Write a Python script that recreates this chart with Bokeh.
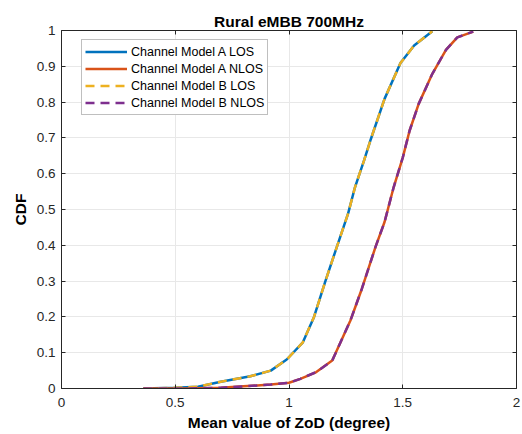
from bokeh.plotting import figure
from bokeh.models import (Range1d, LinearAxis, FixedTicker, CustomJSTickFormatter,
                          Legend, LegendItem)
from bokeh.embed import file_html
from bokeh.resources import INLINE

title_text = "Rural eMBB 700MHz"
x_label = "Mean value of ZoD (degree)"
y_label = "CDF"
x_ticks = [0, 0.5, 1, 1.5, 2]
y_ticks = [0, 0.1, 0.2, 0.3, 0.4, 0.5, 0.6, 0.7, 0.8, 0.9, 1]

series_names = ["Channel Model A LOS", "Channel Model A NLOS",
                "Channel Model B LOS", "Channel Model B NLOS"]
series_colors = ["#0072BD", "#D95319", "#EDB120", "#7E2F8E"]

a_los_x = [0.36, 0.50, 0.60, 0.70, 0.83, 0.92, 0.99, 1.06, 1.11, 1.16, 1.21,
           1.26, 1.29, 1.33, 1.36, 1.42, 1.49, 1.55, 1.63]
a_los_y = [0.0, 0.002, 0.005, 0.019, 0.034, 0.05, 0.081, 0.128, 0.2, 0.3, 0.395,
           0.489, 0.562, 0.637, 0.697, 0.809, 0.909, 0.958, 0.998]

a_nlos_x = [0.36, 0.55, 0.70, 0.80, 0.92, 1.00, 1.05, 1.12, 1.19, 1.27, 1.32,
            1.38, 1.42, 1.46, 1.50, 1.53, 1.57, 1.63, 1.69, 1.74, 1.81]
a_nlos_y = [0.0, 0.0, 0.002, 0.006, 0.011, 0.016, 0.027, 0.046, 0.078, 0.19, 0.278,
            0.395, 0.465, 0.562, 0.645, 0.72, 0.795, 0.879, 0.946, 0.981, 0.997]

b_los_x = [0.36, 0.50, 0.60, 0.70, 0.83, 0.92, 0.99, 1.06, 1.11, 1.16, 1.21,
           1.26, 1.29, 1.33, 1.36, 1.42, 1.49, 1.55, 1.63]
b_los_y = [0.0, 0.002, 0.005, 0.019, 0.034, 0.05, 0.081, 0.128, 0.2, 0.3, 0.395,
           0.489, 0.562, 0.637, 0.697, 0.809, 0.909, 0.958, 0.998]

b_nlos_x = [0.36, 0.55, 0.70, 0.80, 0.92, 1.00, 1.05, 1.12, 1.19, 1.27, 1.32,
            1.38, 1.42, 1.46, 1.50, 1.53, 1.57, 1.63, 1.69, 1.74, 1.81]
b_nlos_y = [0.0, 0.0, 0.002, 0.006, 0.011, 0.016, 0.027, 0.046, 0.078, 0.19, 0.278,
            0.395, 0.465, 0.562, 0.645, 0.72, 0.795, 0.879, 0.946, 0.981, 0.997]

FONT = "Liberation Sans"
AX = "#262626"

p = figure(width=522, height=434, output_backend="svg", toolbar_location=None,
           x_range=Range1d(0, 2), y_range=Range1d(0, 1),
           min_border_left=61, min_border_right=6, min_border_top=30, min_border_bottom=46)
p.outline_line_color = None
p.background_fill_color = "white"
p.border_fill_color = "white"

p.title.text = title_text
p.title.align = "center"
p.title.vertical_align = "bottom"
p.title.text_font = FONT
p.title.text_font_size = "15.5px"
p.title.text_font_style = "bold"
p.title.text_color = "black"
p.title.standoff = 2

num_fmt = CustomJSTickFormatter(code="return String(Math.round(tick*10)/10);")
blank_fmt = CustomJSTickFormatter(code="return '';")

def style_axis(ax, ticks, fmt):
    ax.ticker = FixedTicker(ticks=ticks)
    ax.formatter = fmt
    ax.axis_line_color = AX
    ax.axis_line_width = 1
    ax.major_tick_line_color = AX
    ax.major_tick_in = 4
    ax.major_tick_out = 0
    ax.minor_tick_line_color = None
    ax.major_label_text_font = FONT
    ax.major_label_text_font_size = "13.5px"
    ax.major_label_text_color = AX
    ax.axis_label_text_font = FONT
    ax.axis_label_text_font_size = "15.5px"
    ax.axis_label_text_font_style = "bold"
    ax.axis_label_text_color = "black"

xa = p.xaxis[0]
style_axis(xa, x_ticks, num_fmt)
xa.axis_label = x_label
xa.major_label_standoff = 9
xa.axis_label_standoff = 4

ya = p.yaxis[0]
style_axis(ya, y_ticks, num_fmt)
ya.axis_label = y_label
ya.major_label_standoff = 6
ya.axis_label_standoff = 5

top = LinearAxis()
style_axis(top, x_ticks, blank_fmt)
top.major_label_standoff = 0
p.add_layout(top, "above")

right = LinearAxis()
style_axis(right, y_ticks, blank_fmt)
right.major_label_standoff = 0
p.add_layout(right, "right")

p.xgrid.ticker = FixedTicker(ticks=x_ticks)
p.ygrid.ticker = FixedTicker(ticks=y_ticks)
p.xgrid.grid_line_color = "#e8e8e8"
p.ygrid.grid_line_color = "#e8e8e8"

lw = 2.5
r1 = p.line(a_los_x, a_los_y, line_color=series_colors[0], line_width=lw)
r2 = p.line(a_nlos_x, a_nlos_y, line_color=series_colors[1], line_width=lw)
r3 = p.line(b_los_x, b_los_y, line_color=series_colors[2], line_width=lw, line_dash="9 6")
r4 = p.line(b_nlos_x, b_nlos_y, line_color=series_colors[3], line_width=lw, line_dash="9 6")

legend = Legend(items=[LegendItem(label=series_names[i], renderers=[r])
                       for i, r in enumerate([r1, r2, r3, r4])],
                location=(20, 273))
legend.label_text_font = FONT
legend.label_text_font_size = "12.5px"
legend.label_text_color = "black"
legend.glyph_width = 42
legend.glyph_height = 17
legend.label_height = 17
legend.label_standoff = 4
legend.spacing = 0
legend.padding = 3
legend.margin = 0
legend.border_line_color = "#7f7f7f"
legend.border_line_width = 1
legend.background_fill_color = "white"
legend.background_fill_alpha = 1
p.add_layout(legend)

open("out.html", "w").write(file_html(p, INLINE))
